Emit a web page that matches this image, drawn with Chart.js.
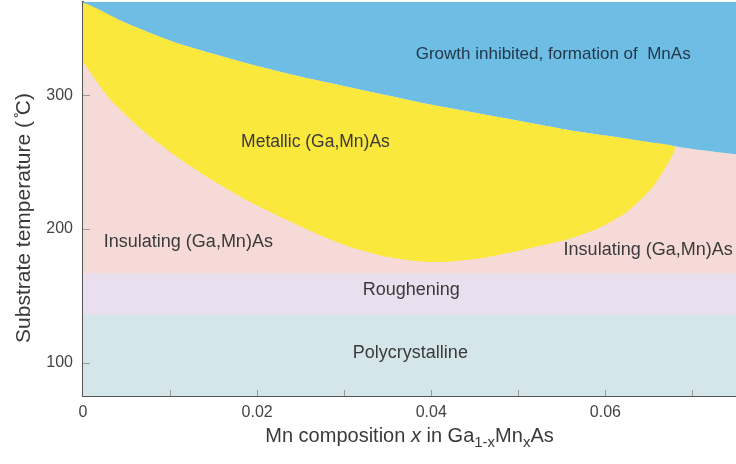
<!DOCTYPE html>
<html>
<head>
<meta charset="utf-8">
<script src="https://cdn.jsdelivr.net/npm/chart.js@4/dist/chart.umd.min.js"></script>
<style>
  html, body { margin: 0; padding: 0; background: #fff; }
  #wrap { width: 736px; height: 464px; }
</style>
</head>
<body>
<div id="wrap"><canvas id="diagram" width="736" height="464"></canvas></div>
<script>
// boundary between growth-inhibited (MnAs) region and (Ga,Mn)As
const upperX = [0, 0.005, 0.01, 0.015, 0.02, 0.025, 0.03, 0.035, 0.04, 0.045, 0.05, 0.055, 0.06, 0.065, 0.068, 0.07, 0.075];
const upperT = [369, 354, 341, 331, 322, 314, 307, 300, 293, 287, 281, 275, 270, 265, 262, 260, 256];

// lower edge of the metallic region
const lowerX = [0, 0.003, 0.007, 0.011, 0.015, 0.019, 0.023, 0.027, 0.031, 0.035, 0.039, 0.042, 0.045, 0.048, 0.0515, 0.0555, 0.059, 0.0625, 0.0655, 0.068];
const lowerT = [325, 298, 273, 253, 236, 221, 208, 196, 186, 179, 175.5, 175.5, 177.5, 181, 186, 192, 200, 213, 232, 261];

// flat bands
const rougheningTop = 167;
const polycrystallineTop = 136;
const xRange = [0, 0.075];
const yRange = [75, 370];

// ticks
const xTickValues = [0, 0.01, 0.02, 0.03, 0.04, 0.05, 0.06, 0.07];
const xTickLabels = ["0", "", "0.02", "", "0.04", "", "0.06", ""];
const yTickValues = [100, 200, 300];

// region names and where they sit (data units)
const regionNames = ["Growth inhibited, formation of  MnAs", "Metallic (Ga,Mn)As", "Insulating (Ga,Mn)As", "Insulating (Ga,Mn)As", "Roughening", "Polycrystalline"];
const regionX = [0.054, 0.0267, 0.0121, 0.0552, 0.0377, 0.0376];
const regionY = [331, 265, 190.5, 184.5, 154, 107.5];
const regionAlign = ["center", "center", "center", "left", "center", "center"];
const regionFontPx = [17, 17.5, 18, 18, 18, 18];

const FONT = "'Liberation Sans', Arial, sans-serif";

const upperPts = upperX.map((x, i) => ({ x, y: upperT[i] }));
const lowerPts = lowerX.map((x, i) => ({ x, y: lowerT[i] }));
// metallic region: lower edge left->right, then upper edge back to x=0
const junction = lowerX[lowerX.length - 1];
const metallicPts = lowerPts.concat(
  upperPts.filter(p => p.x < junction).reverse(),
  [lowerPts[0]]
);

function band(top) {
  return [{ x: xRange[0], y: top }, { x: xRange[1], y: top }];
}

const baseSet = { showLine: true, pointRadius: 0, borderWidth: 0, borderColor: "rgba(0,0,0,0)" };

const overlay = {
  id: "overlay",
  afterDatasetsDraw(chart) {
    const { ctx, scales: { x, y }, chartArea } = chart;
    ctx.save();
    // inward tick marks
    ctx.strokeStyle = "#9a9a9a";
    ctx.lineWidth = 1;
    xTickValues.forEach(v => {
      if (v === 0) return;
      const px = Math.round(x.getPixelForValue(v)) + 0.5;
      ctx.beginPath();
      ctx.moveTo(px, chartArea.bottom);
      ctx.lineTo(px, chartArea.bottom - 6);
      ctx.stroke();
    });
    yTickValues.forEach(v => {
      const py = Math.round(y.getPixelForValue(v)) + 0.5;
      ctx.beginPath();
      ctx.moveTo(chartArea.left, py);
      ctx.lineTo(chartArea.left + 7, py);
      ctx.stroke();
    });

    // region names
    ctx.textBaseline = "middle";
    regionNames.forEach((t, i) => {
      ctx.font = regionFontPx[i] + "px " + FONT;
      ctx.fillStyle = i === 0 ? "#23384a" : "#3a3a3a";
      ctx.textAlign = regionAlign[i];
      ctx.fillText(t, x.getPixelForValue(regionX[i]), y.getPixelForValue(regionY[i]));
    });
    ctx.restore();
  },
  afterDraw(chart) {
    const { ctx, chartArea } = chart;
    ctx.save();
    ctx.fillStyle = "#3a3a3a";
    ctx.textBaseline = "alphabetic";

    // x title with subscripts
    const parts = [
      { t: "Mn composition ", f: "20px " + FONT, dy: 0 },
      { t: "x", f: "italic 20px " + FONT, dy: 0 },
      { t: " in Ga", f: "20px " + FONT, dy: 0 },
      { t: "1-x", f: "15px " + FONT, dy: 5 },
      { t: "Mn", f: "20px " + FONT, dy: 0 },
      { t: "x", f: "15px " + FONT, dy: 5 },
      { t: "As", f: "20px " + FONT, dy: 0 }
    ];
    let total = 0;
    parts.forEach(p => { ctx.font = p.f; p.w = ctx.measureText(p.t).width; total += p.w; });
    let cx = (chartArea.left + chartArea.right) / 2 - total / 2;
    const base = chartArea.bottom + 46;
    ctx.textAlign = "left";
    parts.forEach(p => {
      ctx.font = p.f;
      ctx.fillText(p.t, cx, base + p.dy);
      cx += p.w;
    });

    // y title
    ctx.translate(30, 218);
    ctx.rotate(-Math.PI / 2);
    ctx.font = "21px " + FONT;
    ctx.textAlign = "center";
    ctx.fillText("Substrate temperature ( ̊C)", 0, 0);
    ctx.restore();
  }
};

new Chart(document.getElementById("diagram"), {
  type: "scatter",
  data: {
    datasets: [
      Object.assign({}, baseSet, { label: "Metallic", data: metallicPts, fill: "shape", backgroundColor: "#fbe83c", tension: 0.2, order: 1 }),
      Object.assign({}, baseSet, { label: "Polycrystalline", data: band(polycrystallineTop), fill: "start", backgroundColor: "#d5e6eb", order: 2 }),
      Object.assign({}, baseSet, { label: "Roughening", data: band(rougheningTop), fill: "start", backgroundColor: "#eadfee", order: 3 }),
      Object.assign({}, baseSet, { label: "Growth inhibited", data: upperPts, fill: "end", backgroundColor: "#6dbde4", tension: 0.3, order: 4 }),
      Object.assign({}, baseSet, { label: "Insulating", data: upperPts, fill: "start", backgroundColor: "#f6dad8", tension: 0.3, order: 5 })
    ]
  },
  options: {
    responsive: false,
    devicePixelRatio: 1,
    animation: false,
    layout: { padding: { top: 2, right: 0, left: 0, bottom: 0 } },
    plugins: { legend: { display: false }, tooltip: { enabled: false } },
    scales: {
      x: {
        type: "linear",
        min: xRange[0],
        max: xRange[1],
        afterFit: s => { s.height = 68; s.paddingLeft = 0; s.paddingRight = 0; },
        afterBuildTicks: s => { s.ticks = xTickValues.map(v => ({ value: v })); },
        grid: { display: false, drawTicks: false, tickLength: 0 },
        border: { display: true, color: "#555", width: 2 },
        ticks: {
          autoSkip: false,
          maxRotation: 0,
          padding: 7,
          color: "#444",
          font: { family: FONT, size: 16 },
          callback: (v, i) => xTickLabels[i]
        }
      },
      y: {
        min: yRange[0],
        max: yRange[1],
        afterFit: s => { s.width = 83; s.paddingTop = 0; s.paddingBottom = 0; },
        afterBuildTicks: s => { s.ticks = yTickValues.map(v => ({ value: v })); },
        grid: { display: false, drawTicks: false, tickLength: 0 },
        border: { display: true, color: "#555", width: 2 },
        ticks: {
          padding: 10,
          color: "#444",
          font: { family: FONT, size: 16 },
          callback: v => String(v)
        }
      }
    }
  },
  plugins: [overlay]
});
</script>
</body>
</html>
